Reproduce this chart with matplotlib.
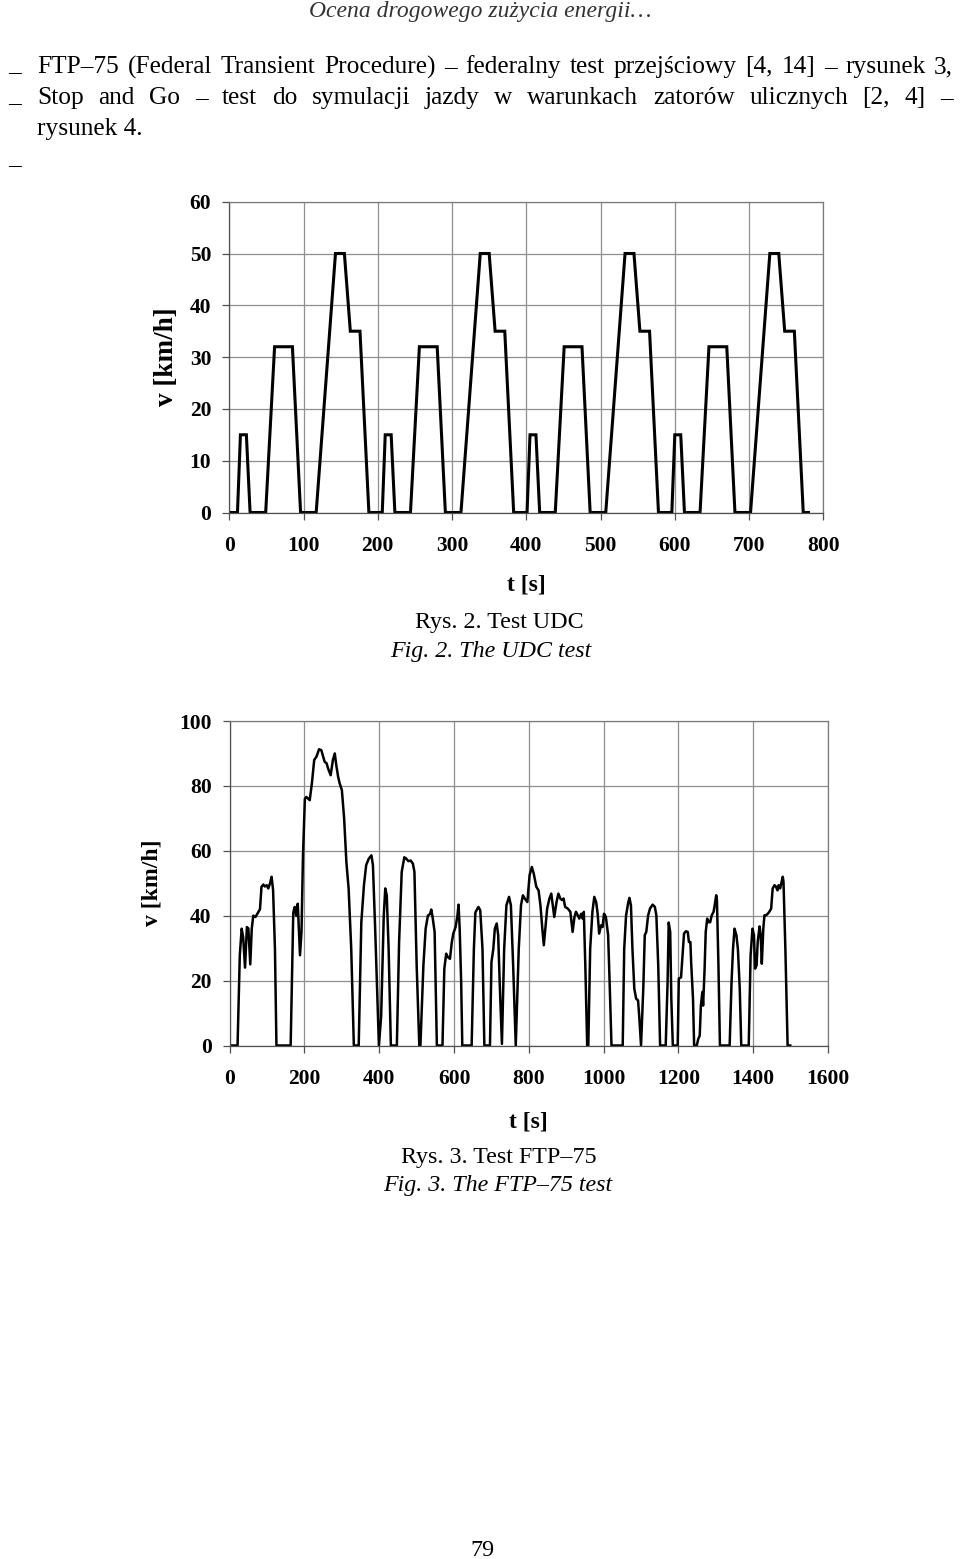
import matplotlib
matplotlib.use("Agg")
import matplotlib.pyplot as plt

plt.rcParams['font.family'] = ['Liberation Serif', 'DejaVu Serif']

# UDC (ECE-15) - four repeated urban cycles
udc_t = [0, 11, 15, 23, 28, 49, 61, 85, 96, 117, 143, 155, 163, 176, 188,
         206, 210, 218, 223, 244, 256, 280, 291, 312, 338, 350, 358, 371, 383,
         401, 405, 413, 418, 439, 451, 475, 486, 507, 533, 545, 553, 566, 578,
         596, 600, 608, 613, 634, 646, 670, 681, 702, 728, 740, 748, 761, 773,
         780]
udc_v = [0, 0, 15, 15, 0, 0, 32, 32, 0, 0, 50, 50, 35, 35, 0,
         0, 15, 15, 0, 0, 32, 32, 0, 0, 50, 50, 35, 35, 0,
         0, 15, 15, 0, 0, 32, 32, 0, 0, 50, 50, 35, 35, 0,
         0, 15, 15, 0, 0, 32, 32, 0, 0, 50, 50, 35, 35, 0,
         0]

# FTP-75 trace
ftp_t = [0, 21, 27, 32, 36, 41, 46, 50, 55, 59, 63, 69, 76, 81, 85, 90, 94, 99, 103, 108, 112, 116, 121, 125,
         163, 170, 174, 178, 182, 188, 192, 196, 201, 205, 214, 220, 226, 232, 239, 245, 250, 254, 259, 263,
         270, 276, 281, 285, 290, 294, 300, 306, 312, 318, 325, 332,
         345, 352, 359, 365, 372, 379, 383, 389, 399,
         405, 412, 416, 420, 425, 431,
         447, 453, 460, 467, 472, 478, 484, 490, 494, 500, 507,
         510, 518, 524, 530, 536, 539, 542, 548, 554,
         569, 574, 579, 583, 589, 594, 598, 604, 609, 612, 615, 619, 622,
         647, 653, 657, 665, 670, 676, 681,
         696, 700, 705, 709, 714, 718, 722, 728,
         734, 740, 747, 752, 758, 765,
         773, 779, 784, 789, 796, 802, 808, 813, 820, 826, 831, 836, 840, 844, 849, 855, 860, 864, 868,
         874, 879, 884, 889, 893, 897, 904, 911, 917, 922, 926, 931, 935, 940, 944, 947, 951, 956, 959,
         964, 970, 975, 980, 984, 988, 993, 997, 1001, 1006, 1012, 1016, 1021,
         1051, 1055, 1060, 1066, 1069, 1073, 1077, 1082, 1087, 1092, 1095, 1100,
         1106, 1110, 1114, 1119, 1124, 1131, 1137, 1141, 1146, 1151,
         1166, 1171, 1174, 1178, 1181, 1185, 1198,
         1201, 1207, 1211, 1215, 1220, 1225, 1228, 1232, 1234, 1239, 1242, 1249, 1253, 1257, 1260, 1264,
         1266, 1270, 1273, 1277, 1281, 1285, 1289, 1294, 1297, 1301, 1303, 1307, 1311,
         1337, 1342, 1346, 1350, 1355, 1359, 1364, 1368,
         1388, 1393, 1398, 1402, 1405, 1409, 1412, 1417, 1420, 1423, 1427, 1430, 1434, 1439, 1443, 1448,
         1452, 1457, 1461, 1465, 1468, 1472, 1475, 1479, 1481, 1486, 1492, 1499]
ftp_v = [0, 0, 27.8, 36, 33.4, 24, 36.5, 36, 25, 36, 40, 39.6, 41, 42, 48.9, 49.6, 49, 49.4, 48.4, 50, 52, 48, 29.8, 0,
         0, 41, 42.7, 40, 43.7, 27.8, 35, 58.6, 76, 76.6, 75.6, 81, 88, 89, 91.3, 91, 89, 87.4, 87, 85.4,
         83.3, 88, 90, 86.4, 82.8, 80.8, 78.7, 70, 56.6, 48.4, 29.8, 0,
         0, 38, 49.4, 55.6, 57.6, 58.6, 55.6, 36, 0,
         9, 40, 48.4, 46.3, 29.8, 0,
         0, 31.9, 53.5, 58, 57.6, 56.8, 57, 56, 53.5, 24.7, 0,
         0, 24.7, 36, 40, 40.6, 41.9, 40, 35, 0,
         0, 23.7, 28.3, 27.3, 26.7, 31.9, 34.5, 36.5, 40, 43.4, 36, 19.5, 0,
         0, 29.8, 41, 42.7, 41.7, 29.8, 0,
         0, 25.7, 29.8, 36, 37.6, 34, 19.5, 0.5,
         29.8, 43.2, 45.8, 43.2, 24.7, 0,
         29.8, 43.2, 46.3, 45.3, 44.2, 52.5, 55, 53, 48.9, 47.8, 43.2, 36, 30.9, 36, 42.2, 45.3, 46.8, 43.2, 39.6,
         44.2, 46.8, 45.3, 44.8, 45.3, 42.7, 42.2, 41.2, 35, 39.6, 41.2, 40.1, 39.1, 40.6, 39.1, 41.2, 24.7, 0, 0,
         29.8, 41.2, 45.8, 44.2, 40.6, 34.5, 37, 36.5, 40.6, 39.6, 34, 19.5, 0,
         0, 29.8, 40.1, 44.2, 45.5, 43.2, 29.8, 17.5, 14.4, 13.9, 9.3, 0,
         17.5, 34, 35, 40.1, 42.2, 43.4, 42.7, 40.1, 24.7, 0,
         0, 19.5, 37.9, 35, 14.4, 0, 0,
         20.6, 21, 27.8, 34.5, 35.2, 35, 31.9, 31.9, 25.7, 14.4, 0, 0, 2, 3.1, 12.3, 16.5,
         12.3, 23.7, 35, 39.1, 38, 38, 40.1, 41.2, 43.2, 46.3, 44.8, 24.7, 0,
         0, 19.5, 29.8, 36, 34, 29.8, 17.5, 0,
         0, 27.8, 36, 34, 23.7, 24.7, 31.9, 36.7, 34, 25.2, 36, 40.1, 40.1, 40.6, 41.2, 42.2,
         48.4, 49.4, 48.9, 47.8, 49.4, 48.4, 49.9, 52, 50.4, 29.8, 0, 0]

W, H = 960, 1559
fig = plt.figure(figsize=(W / 100, H / 100), dpi=100)


def fx(px):
    return px / W


def fy(py):
    return 1 - py / H


def style_axes(ax, xticks, yticks, xmax, ymax, ylabsize, ylabelpad, xlabelpad):
    ax.set_xlim(0, xmax)
    ax.set_ylim(0, ymax)
    ax.set_xticks(xticks)
    ax.set_yticks(yticks)
    ax.grid(True, color='#8f8f8f', lw=0.9)
    ax.set_axisbelow(True)
    for s in ax.spines.values():
        s.set_color('#7a7a7a')
        s.set_linewidth(0.9)
    ax.spines['left'].set_color('#505050')
    ax.spines['bottom'].set_color('#505050')
    ax.tick_params(direction='out', length=5, width=0.9, color='#505050')
    ax.tick_params(axis='y', pad=8)
    ax.tick_params(axis='x', pad=12)
    for lab in ax.get_xticklabels() + ax.get_yticklabels():
        lab.set_fontweight('bold')
        lab.set_fontsize(15.5)
    ax.set_xlabel('t [s]', fontsize=17, fontweight='bold', labelpad=xlabelpad)
    ax.set_ylabel('v [km/h]', fontsize=ylabsize, fontweight='bold', labelpad=ylabelpad)


# Fig. 2 - UDC
ax1 = fig.add_axes([fx(229.3), fy(512.5), (823.3 - 229.3) / W, (512.5 - 201.7) / H])
ax1.plot(udc_t, udc_v, color='black', lw=2.2, solid_joinstyle='miter')
style_axes(ax1, range(0, 801, 100), range(0, 61, 10), 800, 60, 19.5, 8, 13)

# Fig. 3 - FTP-75
ax2 = fig.add_axes([fx(229.7), fy(1045.5), (828 - 229.7) / W, (1045.5 - 721) / H])
ax2.plot(ftp_t, ftp_v, color='black', lw=1.8)
style_axes(ax2, range(0, 1601, 200), range(0, 101, 20), 1600, 100, 17, 12, 16)

# page text
fig.text(0.5, fy(12), 'Ocena drogowego zużycia energii…', ha='center', va='center',
         fontsize=17, style='italic', color='#333333')

body = 18.3
cap = 17.3
renderer = fig.canvas.get_renderer()


def justify(line, x0, x1, y):
    words = line.split(' ')
    objs = [fig.text(0, fy(y), w, fontsize=body, va='center') for w in words]
    widths = [o.get_window_extent(renderer).width for o in objs]
    gap = (x1 - x0 - sum(widths)) / (len(words) - 1)
    x = x0
    for o, w in zip(objs, widths):
        o.set_x(fx(x))
        x += w + gap


justify('FTP–75 (Federal Transient Procedure) – federalny test przejściowy [4, 14] – rysunek 3,', 37, 953, 67)
justify('Stop and Go – test do symulacji jazdy w warunkach zatorów ulicznych [2, 4] –', 37, 953, 98)
fig.text(fx(37), fy(129), 'rysunek 4.', fontsize=body, va='center')
for yy in [67, 98, 160]:
    fig.text(fx(8), fy(yy + 5), '–', fontsize=body, va='center')

fig.text(fx(499), fy(623), 'Rys. 2. Test UDC', ha='center', va='center', fontsize=cap)
fig.text(fx(491), fy(651), 'Fig. 2. The UDC test', ha='center', va='center', fontsize=cap, style='italic')
fig.text(fx(499), fy(1157), 'Rys. 3. Test FTP–75', ha='center', va='center', fontsize=cap)
fig.text(fx(498), fy(1185), 'Fig. 3. The FTP–75 test', ha='center', va='center', fontsize=cap, style='italic')
fig.text(fx(482), fy(1551), '79', ha='center', va='center', fontsize=cap)

fig.savefig('out.png', dpi=100)
